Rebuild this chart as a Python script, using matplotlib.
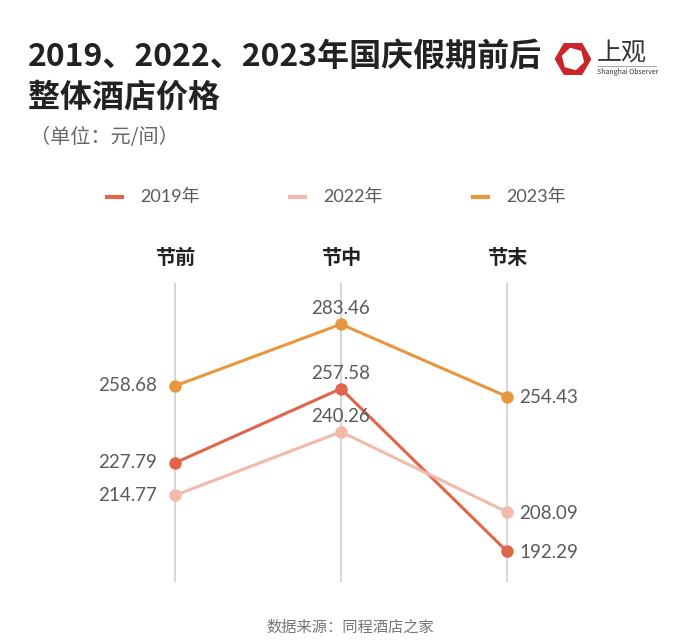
import matplotlib.pyplot as plt
from matplotlib.lines import Line2D
from matplotlib.patches import RegularPolygon
import matplotlib.transforms as mtransforms

plt.rcParams['font.family'] = ['Noto Sans CJK SC', 'DejaVu Sans']

stages = ["节前", "节中", "节末"]
years = ["2019年", "2022年", "2023年"]
prices_2019 = [227.79, 257.58, 192.29]
prices_2022 = [214.77, 240.26, 208.09]
prices_2023 = [258.68, 283.46, 254.43]
colors = ["#E0654B", "#F3BAAB", "#E8963F"]

num_font = ["Lato", "Noto Sans CJK SC", "DejaVu Sans"]


def draw_chart():
    fig = plt.figure(figsize=(7, 6.44), dpi=100)
    ax = fig.add_axes([0.1314, 0.0963, 0.7114, 0.4643])
    x = list(range(len(stages)))

    for xi in x:
        ax.axvline(xi, color="#CFCFCF", lw=1.2, zorder=1)

    series = [prices_2019, prices_2022, prices_2023]
    for vals, col in zip(series, colors):
        ax.plot(x, vals, color=col, lw=2.2, marker="o", ms=9,
                markeredgewidth=0, zorder=3)
        ax.annotate(f"{vals[0]:.2f}", (x[0], vals[0]), xytext=(-13, 0),
                    textcoords="offset points", ha="right", va="center",
                    fontsize=13.5, color="#5A5A5A", family=num_font)
        ax.annotate(f"{vals[1]:.2f}", (x[1], vals[1]), xytext=(0, 5),
                    textcoords="offset points", ha="center", va="bottom",
                    fontsize=13.5, color="#5A5A5A", family=num_font)
        ax.annotate(f"{vals[2]:.2f}", (x[2], vals[2]), xytext=(9, -1),
                    textcoords="offset points", ha="left", va="center",
                    fontsize=13.5, color="#5A5A5A", family=num_font)

    ax.set_xlim(-0.5, 2.5)
    ax.set_ylim(180, 300)
    ax.axis("off")

    trans = mtransforms.blended_transform_factory(ax.transData, ax.transAxes)
    for xi, name in zip(x, stages):
        ax.text(xi, 1.0836, name, transform=trans, ha="center", va="center",
                fontsize=14.5, fontweight="bold", color="#222222")

    # legend
    for i, (name, col) in enumerate(zip(years, colors)):
        x0 = (107 + 183 * i) / 700
        y0 = 1 - 197 / 644
        fig.add_artist(Line2D([x0, x0 + 15 / 700], [y0, y0], color=col, lw=3))
        fig.text(x0 + 33 / 700, y0, name, ha="left", va="center",
                 fontsize=13, color="#5A5A5A", family=num_font)

    # title
    fig.text(28 / 700, 1 - 57 / 644, "2019、2022、2023年国庆假期前后",
             ha="left", va="center", fontsize=23, fontweight="bold",
             color="#222222")
    fig.text(28 / 700, 1 - 98 / 644, "整体酒店价格", ha="left", va="center",
             fontsize=23, fontweight="bold", color="#222222")
    fig.text(30 / 700, 1 - 138 / 644, "（单位：元/间）", ha="left",
             va="center", fontsize=14.5, color="#666666")
    fig.text(350 / 700, 1 - 627 / 644, "数据来源：同程酒店之家",
             ha="center", va="center", fontsize=11, color="#777777")

    # logo
    lax = fig.add_axes([555 / 700, 1 - 77 / 644, 36 / 700, 36 / 644])
    lax.set_xlim(-1, 1)
    lax.set_ylim(-1, 1)
    lax.set_aspect("equal")
    lax.axis("off")
    lax.add_patch(RegularPolygon((0, 0), 6, radius=0.98, orientation=0.5236,
                                 color="#C9262B"))
    lax.add_patch(RegularPolygon((0, 0), 6, radius=0.6, orientation=0.25,
                                 color="white"))
    fig.text(597 / 700, 1 - 53 / 644, "上观", ha="left", va="center",
             fontsize=18, color="#333333")
    fig.add_artist(Line2D([597 / 700, 656 / 700], [1 - 66 / 644, 1 - 66 / 644],
                          color="#999999", lw=0.6))
    fig.text(597 / 700, 1 - 72 / 644, "Shanghai Observer", ha="left",
             va="center", fontsize=5, color="#333333")

    fig.savefig("out.png", dpi=100, facecolor="white")


if __name__ == '__main__':
    draw_chart()
